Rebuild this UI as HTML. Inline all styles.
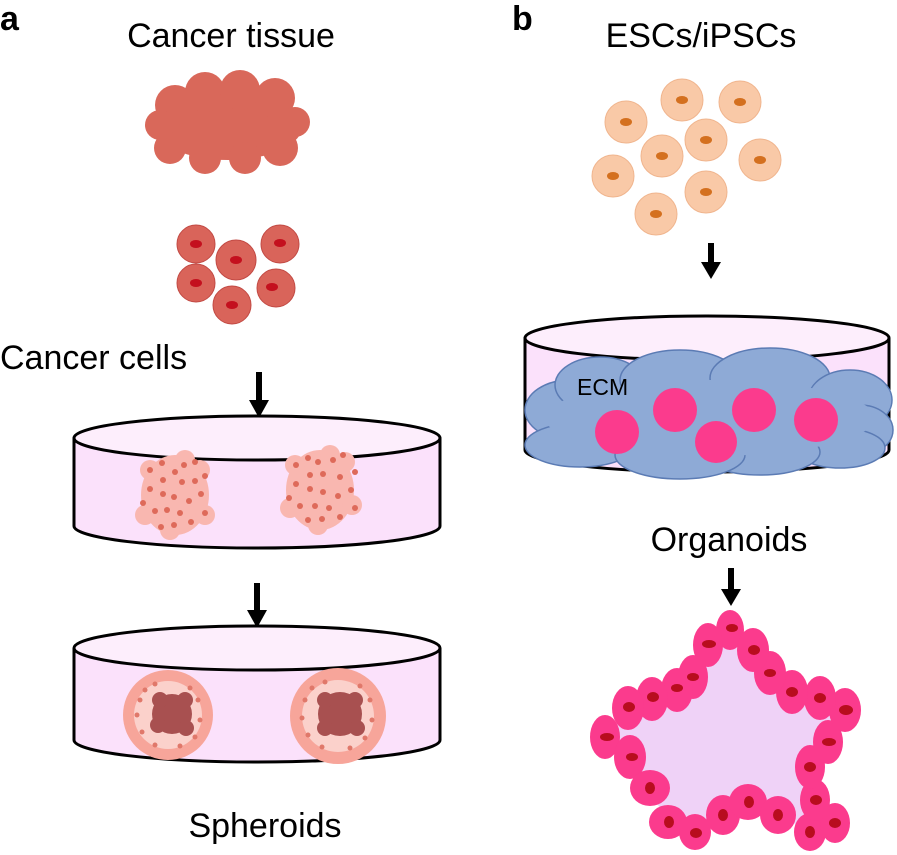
<!DOCTYPE html>
<html><head><meta charset="utf-8"><style>
body{margin:0;background:#fff}
svg{display:block}
text{font-family:"Liberation Sans",sans-serif}
</style></head><body>
<svg width="897" height="855" viewBox="0 0 897 855" xmlns="http://www.w3.org/2000/svg">
<text x="0" y="30" font-size="34" font-weight="bold">a</text>
<text x="512" y="30" font-size="34" font-weight="bold">b</text>
<text x="231" y="47" font-size="34" text-anchor="middle">Cancer tissue</text>
<text x="701" y="47" font-size="34" text-anchor="middle">ESCs/iPSCs</text>
<text x="0" y="369" font-size="34">Cancer cells</text>
<text x="729" y="551" font-size="34" text-anchor="middle">Organoids</text>
<text x="265" y="837" font-size="34" text-anchor="middle">Spheroids</text>

<!-- cancer tissue cloud -->
<g fill="#d9685a">
<ellipse cx="228" cy="125" rx="75" ry="35"/>
<circle cx="175" cy="105" r="20"/><circle cx="205" cy="92" r="20"/><circle cx="240" cy="90" r="20"/><circle cx="275" cy="98" r="20"/>
<circle cx="295" cy="122" r="15"/><circle cx="280" cy="148" r="18"/><circle cx="245" cy="158" r="16"/><circle cx="205" cy="158" r="16"/>
<circle cx="170" cy="148" r="16"/><circle cx="160" cy="125" r="15"/>
</g>
<!-- cancer cells -->
<g>
<g fill="#d9645a" stroke="#c24a44" stroke-width="1">
<circle cx="196" cy="244" r="19"/><circle cx="280" cy="244" r="19"/><circle cx="236" cy="260" r="20"/>
<circle cx="196" cy="283" r="19"/><circle cx="276" cy="288" r="19"/><circle cx="232" cy="305" r="19"/>
</g>
<g fill="#c4101e">
<ellipse cx="196" cy="244" rx="6" ry="4"/><ellipse cx="280" cy="243" rx="6" ry="4"/><ellipse cx="236" cy="260" rx="6" ry="4"/>
<ellipse cx="196" cy="283" rx="6" ry="4"/><ellipse cx="272" cy="287" rx="6" ry="4"/><ellipse cx="232" cy="305" rx="6" ry="4"/>
</g>
</g>

<!-- arrows -->
<g fill="#000" stroke="#000">
<line x1="259" y1="372" x2="259" y2="402" stroke-width="6"/><polygon points="249,400 269,400 259,418" stroke="none"/>
<line x1="257" y1="583" x2="257" y2="612" stroke-width="6"/><polygon points="247,610 267,610 257,628" stroke="none"/>
<line x1="711" y1="243" x2="711" y2="263" stroke-width="6"/><polygon points="701,262 721,262 711,279" stroke="none"/>
<line x1="731" y1="568" x2="731" y2="590" stroke-width="6"/><polygon points="721,589 741,589 731,606" stroke="none"/>
</g>

<!-- dish 1 -->
<g stroke="#000" stroke-width="3">
<path d="M74 438 L74 526 A183 22 0 0 0 440 526 L440 438" fill="#fbe1fb"/>
<ellipse cx="257" cy="438" rx="183" ry="22" fill="#fdeefc"/>
</g>
<!-- dish 2 -->
<g stroke="#000" stroke-width="3">
<path d="M74 648 L74 740 A183 22 0 0 0 440 740 L440 648" fill="#fbe1fb"/>
<ellipse cx="257" cy="648" rx="183" ry="22" fill="#fdeefc"/>
</g>
<!-- dish right -->
<g stroke="#000" stroke-width="3">
<path d="M525 338 L525 450 A182 22 0 0 0 889 450 L889 338" fill="#fbe1fb"/>
<ellipse cx="707" cy="338" rx="182" ry="22" fill="#fdeefc"/>
</g>

<!-- aggregates in dish1 -->
<g fill="#f9b7b0">
<ellipse cx="175" cy="495" rx="34" ry="40"/><ellipse cx="320" cy="490" rx="34" ry="40"/>
<circle cx="150" cy="470" r="10"/><circle cx="200" cy="470" r="10"/><circle cx="145" cy="515" r="10"/><circle cx="205" cy="515" r="10"/><circle cx="170" cy="530" r="10"/><circle cx="185" cy="460" r="10"/>
<circle cx="295" cy="465" r="10"/><circle cx="345" cy="462" r="10"/><circle cx="290" cy="508" r="10"/><circle cx="352" cy="505" r="10"/><circle cx="318" cy="525" r="10"/><circle cx="330" cy="455" r="10"/>
</g>
<g fill="#de6a5a">
<circle cx="150" cy="470" r="3"/><circle cx="162" cy="463" r="3"/><circle cx="184" cy="465" r="3"/><circle cx="195" cy="462" r="3"/><circle cx="175" cy="472" r="3"/><circle cx="163" cy="480" r="3"/><circle cx="182" cy="482" r="3"/><circle cx="195" cy="481" r="3"/><circle cx="205" cy="476" r="3"/><circle cx="150" cy="489" r="3"/><circle cx="163" cy="494" r="3"/><circle cx="174" cy="497" r="3"/><circle cx="189" cy="501" r="3"/><circle cx="201" cy="494" r="3"/><circle cx="143" cy="503" r="3"/><circle cx="155" cy="511" r="3"/><circle cx="167" cy="510" r="3"/><circle cx="180" cy="513" r="3"/><circle cx="205" cy="513" r="3"/><circle cx="161" cy="527" r="3"/><circle cx="174" cy="525" r="3"/><circle cx="191" cy="522" r="3"/>
<circle cx="296" cy="465" r="3"/><circle cx="308" cy="458" r="3"/><circle cx="318" cy="462" r="3"/><circle cx="333" cy="460" r="3"/><circle cx="343" cy="455" r="3"/><circle cx="323" cy="474" r="3"/><circle cx="310" cy="475" r="3"/><circle cx="340" cy="477" r="3"/><circle cx="355" cy="472" r="3"/><circle cx="296" cy="484" r="3"/><circle cx="310" cy="489" r="3"/><circle cx="323" cy="492" r="3"/><circle cx="338" cy="496" r="3"/><circle cx="351" cy="490" r="3"/><circle cx="289" cy="498" r="3"/><circle cx="300" cy="506" r="3"/><circle cx="315" cy="506" r="3"/><circle cx="329" cy="508" r="3"/><circle cx="355" cy="508" r="3"/><circle cx="308" cy="520" r="3"/><circle cx="322" cy="519" r="3"/><circle cx="340" cy="517" r="3"/>
</g>

<!-- spheroids -->
<g>
<circle cx="168" cy="715" r="45" fill="#f7a59a"/><circle cx="168" cy="715" r="34" fill="#fbd1cb"/>
<circle cx="172" cy="714" r="20" fill="#a85050"/>
<circle cx="160" cy="700" r="8" fill="#a85050"/><circle cx="185" cy="700" r="8" fill="#a85050"/><circle cx="158" cy="725" r="8" fill="#a85050"/><circle cx="186" cy="728" r="8" fill="#a85050"/>
<circle cx="338" cy="716" r="48" fill="#f7a59a"/><circle cx="338" cy="716" r="36" fill="#fbd1cb"/>
<circle cx="340" cy="714" r="22" fill="#a85050"/>
<circle cx="325" cy="700" r="8" fill="#a85050"/><circle cx="355" cy="700" r="8" fill="#a85050"/><circle cx="325" cy="728" r="8" fill="#a85050"/><circle cx="357" cy="728" r="8" fill="#a85050"/>
<g fill="#e0786a">
<circle cx="140" cy="700" r="2.5"/><circle cx="145" cy="690" r="2.5"/><circle cx="155" cy="684" r="2.5"/><circle cx="190" cy="688" r="2.5"/><circle cx="198" cy="700" r="2.5"/><circle cx="200" cy="720" r="2.5"/><circle cx="195" cy="737" r="2.5"/><circle cx="180" cy="746" r="2.5"/><circle cx="155" cy="745" r="2.5"/><circle cx="142" cy="732" r="2.5"/><circle cx="137" cy="715" r="2.5"/>
<circle cx="305" cy="700" r="2.5"/><circle cx="312" cy="688" r="2.5"/><circle cx="325" cy="682" r="2.5"/><circle cx="360" cy="686" r="2.5"/><circle cx="370" cy="700" r="2.5"/><circle cx="372" cy="720" r="2.5"/><circle cx="365" cy="738" r="2.5"/><circle cx="350" cy="748" r="2.5"/><circle cx="322" cy="747" r="2.5"/><circle cx="308" cy="735" r="2.5"/><circle cx="302" cy="718" r="2.5"/>
</g>
</g>

<!-- ESCs -->
<g fill="#f9c9a7" stroke="#f0b58e" stroke-width="1">
<circle cx="626" cy="122" r="21"/><circle cx="682" cy="100" r="21"/><circle cx="740" cy="102" r="21"/><circle cx="706" cy="140" r="21"/><circle cx="662" cy="156" r="21"/><circle cx="760" cy="160" r="21"/><circle cx="613" cy="176" r="21"/><circle cx="706" cy="192" r="21"/><circle cx="656" cy="214" r="21"/>
</g>
<g fill="#d4701f">
<ellipse cx="626" cy="122" rx="6" ry="4"/><ellipse cx="682" cy="100" rx="6" ry="4"/><ellipse cx="740" cy="102" rx="6" ry="4"/><ellipse cx="706" cy="140" rx="6" ry="4"/><ellipse cx="662" cy="156" rx="6" ry="4"/><ellipse cx="760" cy="160" rx="6" ry="4"/><ellipse cx="613" cy="176" rx="6" ry="4"/><ellipse cx="706" cy="192" rx="6" ry="4"/><ellipse cx="656" cy="214" rx="6" ry="4"/>
</g>

<!-- ECM -->
<g fill="#8eaad6" stroke="#5b7bb4" stroke-width="1.5">
<ellipse cx="570" cy="410" rx="45" ry="30"/><ellipse cx="580" cy="445" rx="55" ry="22"/><ellipse cx="600" cy="385" rx="45" ry="28"/>
<ellipse cx="680" cy="380" rx="60" ry="30"/><ellipse cx="770" cy="378" rx="60" ry="30"/><ellipse cx="850" cy="400" rx="42" ry="30"/><ellipse cx="860" cy="430" rx="33" ry="25"/>
<ellipse cx="840" cy="448" rx="45" ry="20"/><ellipse cx="760" cy="452" rx="60" ry="23"/><ellipse cx="680" cy="455" rx="65" ry="24"/>
</g>
<g fill="#8eaad6">
<ellipse cx="710" cy="418" rx="165" ry="38"/>
</g>
<text x="577" y="395" font-size="23">ECM</text>
<g fill="#fb3b8d">
<circle cx="617" cy="432" r="22"/><circle cx="675" cy="410" r="22"/><circle cx="716" cy="442" r="21"/><circle cx="754" cy="410" r="22"/><circle cx="816" cy="420" r="22"/>
</g>

<!-- organoid -->
<polygon points="730,628 708,643 693,677 677,688 652,697 628,707 605,737 630,757 648,788 668,822 695,832 723,815 748,802 778,815 810,832 835,823 815,800 810,767 828,742 845,710 820,698 792,692 770,673 753,650" fill="#efd2f7"/>
<g fill="#fb3b8d">
<ellipse cx="730" cy="630" rx="14" ry="20"/><ellipse cx="708" cy="645" rx="15" ry="22"/><ellipse cx="693" cy="677" rx="15" ry="22"/><ellipse cx="677" cy="690" rx="16" ry="22"/><ellipse cx="652" cy="699" rx="16" ry="22"/><ellipse cx="628" cy="708" rx="16" ry="22"/><ellipse cx="605" cy="737" rx="15" ry="22"/><ellipse cx="630" cy="757" rx="16" ry="22"/><ellipse cx="650" cy="788" rx="20" ry="18"/><ellipse cx="668" cy="822" rx="19" ry="17"/><ellipse cx="695" cy="832" rx="16" ry="18"/><ellipse cx="723" cy="815" rx="17" ry="20"/><ellipse cx="748" cy="802" rx="19" ry="18"/><ellipse cx="778" cy="815" rx="18" ry="19"/><ellipse cx="810" cy="832" rx="16" ry="19"/><ellipse cx="835" cy="823" rx="15" ry="20"/><ellipse cx="815" cy="800" rx="15" ry="21"/><ellipse cx="810" cy="767" rx="15" ry="22"/><ellipse cx="828" cy="742" rx="15" ry="22"/><ellipse cx="845" cy="710" rx="16" ry="22"/><ellipse cx="820" cy="698" rx="16" ry="22"/><ellipse cx="792" cy="692" rx="16" ry="22"/><ellipse cx="770" cy="673" rx="16" ry="22"/><ellipse cx="753" cy="650" rx="16" ry="22"/>
</g>
<g fill="#b80d1e">
<ellipse cx="732" cy="628" rx="6" ry="4"/><ellipse cx="709" cy="644" rx="7" ry="4"/><ellipse cx="693" cy="677" rx="6" ry="4"/><ellipse cx="677" cy="688" rx="6" ry="4"/><ellipse cx="653" cy="697" rx="6" ry="5"/><ellipse cx="629" cy="707" rx="6" ry="5"/><ellipse cx="607" cy="737" rx="7" ry="4"/><ellipse cx="632" cy="757" rx="6" ry="4"/><ellipse cx="650" cy="788" rx="5" ry="6"/><ellipse cx="669" cy="822" rx="5" ry="6"/><ellipse cx="696" cy="833" rx="6" ry="5"/><ellipse cx="723" cy="815" rx="5" ry="6"/><ellipse cx="749" cy="802" rx="5" ry="6"/><ellipse cx="778" cy="815" rx="5" ry="6"/><ellipse cx="810" cy="832" rx="5" ry="6"/><ellipse cx="835" cy="823" rx="6" ry="5"/><ellipse cx="816" cy="800" rx="6" ry="5"/><ellipse cx="810" cy="767" rx="6" ry="5"/><ellipse cx="829" cy="742" rx="7" ry="4"/><ellipse cx="846" cy="710" rx="7" ry="5"/><ellipse cx="820" cy="698" rx="6" ry="5"/><ellipse cx="792" cy="692" rx="6" ry="5"/><ellipse cx="770" cy="673" rx="6" ry="4"/><ellipse cx="754" cy="650" rx="6" ry="5"/>
</g>
</svg>
</body></html>
